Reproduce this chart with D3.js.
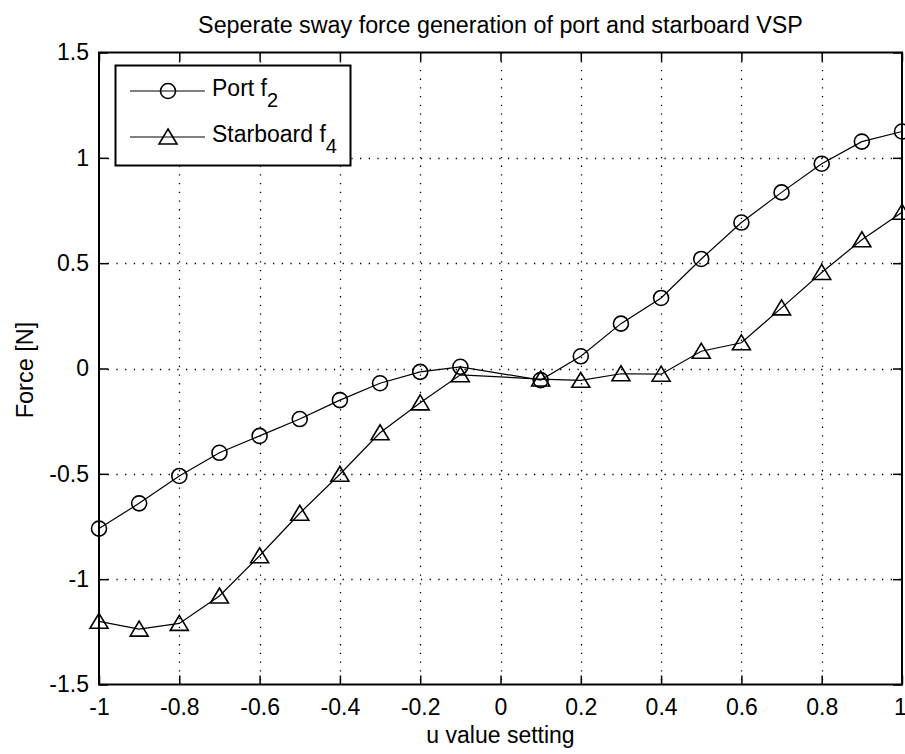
<!DOCTYPE html>
<html>
<head>
<meta charset="utf-8">
<script src="https://cdn.jsdelivr.net/npm/d3@7"></script>
<style>
  body { margin: 0; background: #fff; }
  text { font-family: "Liberation Sans", Arial, sans-serif; fill: #000; }
</style>
</head>
<body>
<svg id="chartArea"></svg>
<script>
// u settings (no sample at 0)
const uValues = [-1, -0.9, -0.8, -0.7, -0.6, -0.5, -0.4, -0.3, -0.2, -0.1,
  0.1, 0.2, 0.3, 0.4, 0.5, 0.6, 0.7, 0.8, 0.9, 1];
const portF2 = [-0.76, -0.64, -0.51, -0.40, -0.32, -0.24, -0.15, -0.07, -0.016, 0.008,
  -0.055, 0.058, 0.213, 0.335, 0.52, 0.693, 0.836, 0.972, 1.077, 1.125];
const starboardF4 = [-1.20, -1.237, -1.21, -1.08, -0.889, -0.687, -0.502, -0.305, -0.163, -0.03,
  -0.05, -0.056, -0.025, -0.027, 0.082, 0.122, 0.288, 0.456, 0.611, 0.742];
const xTicks = [-1, -0.8, -0.6, -0.4, -0.2, 0, 0.2, 0.4, 0.6, 0.8, 1];
const yTicks = [-1.5, -1, -0.5, 0, 0.5, 1, 1.5];

const width = 905,
  height = 754,
  plotLeft = 99,
  plotRight = 902,
  plotTop = 52.5,
  plotBottom = 684.5,
  tickLen = 9;

const xScale = d3.scaleLinear().domain([-1, 1]).range([plotLeft, plotRight]);
const yScale = d3.scaleLinear().domain([-1.5, 1.5]).range([plotBottom, plotTop]);

const svg = d3.select("#chartArea").attr("width", width).attr("height", height);

// dotted grid
const grid = svg.append("g").attr("stroke", "#000").attr("stroke-width", 1.3)
  .attr("stroke-dasharray", "1.3,7.4");
grid.selectAll(".vgrid")
  .data(xTicks.slice(1, -1))
  .enter()
  .append("line")
  .attr("x1", d => Math.round(xScale(d)) + 0.5)
  .attr("x2", d => Math.round(xScale(d)) + 0.5)
  .attr("y1", plotTop)
  .attr("y2", plotBottom);
grid.selectAll(".hgrid")
  .data(yTicks.slice(1, -1))
  .enter()
  .append("line")
  .attr("y1", d => Math.round(yScale(d)) + 0.5)
  .attr("y2", d => Math.round(yScale(d)) + 0.5)
  .attr("x1", plotLeft)
  .attr("x2", plotRight);

// axes with inward ticks on all sides, plain hyphen minus like matlab
const fmt = d => String(d);
const xAxisG = svg.append("g")
  .attr("transform", "translate(0," + plotBottom + ")")
  .call(d3.axisBottom(xScale).tickValues(xTicks).tickSizeInner(-tickLen).tickSizeOuter(0).tickPadding(14).tickFormat(fmt));
svg.append("g")
  .attr("transform", "translate(0," + plotTop + ")")
  .call(d3.axisTop(xScale).tickValues(xTicks).tickSizeInner(-tickLen).tickSizeOuter(0).tickFormat(""));
svg.append("g")
  .attr("transform", "translate(" + plotLeft + ",0)")
  .call(d3.axisLeft(yScale).tickValues(yTicks).tickSizeInner(-tickLen).tickSizeOuter(0).tickPadding(10).tickFormat(fmt));
svg.append("g")
  .attr("transform", "translate(" + plotRight + ",0)")
  .call(d3.axisRight(yScale).tickValues(yTicks).tickSizeInner(-tickLen).tickSizeOuter(0).tickFormat(""));

svg.selectAll(".domain").remove();
svg.selectAll(".tick line").attr("stroke", "#000").attr("stroke-width", 1.5);
svg.selectAll(".tick text").style("font-size", "23px").attr("fill", "#000");
// keep the last label inside the window edge
xAxisG.selectAll(".tick text").filter(d => d === 1).attr("dx", -2);

svg.append("rect")
  .attr("x", plotLeft)
  .attr("y", plotTop)
  .attr("width", plotRight - plotLeft)
  .attr("height", plotBottom - plotTop)
  .attr("fill", "none")
  .attr("stroke", "#000")
  .attr("stroke-width", 2);

// series
const series = [
  { name: "Port", sub: "2", values: portF2, marker: "circle" },
  { name: "Starboard", sub: "4", values: starboardF4, marker: "triangle" }
];

const trianglePath = "M0,-8L9,7L-9,7Z";

const line = d3.line()
  .x((d, i) => xScale(uValues[i]))
  .y(d => yScale(d));

function drawMarker(sel, type) {
  if (type === "circle") {
    sel.append("circle").attr("r", 7.5);
  } else {
    sel.append("path").attr("d", trianglePath);
  }
}

series.forEach(s => {
  svg.append("path")
    .datum(s.values)
    .attr("d", line)
    .attr("fill", "none")
    .attr("stroke", "#000")
    .attr("stroke-width", 1.2);

  const marks = svg.append("g")
    .attr("fill", "none")
    .attr("stroke", "#000")
    .attr("stroke-width", 1.6)
    .selectAll("g")
    .data(s.values)
    .enter()
    .append("g")
    .attr("transform", (d, i) => "translate(" + xScale(uValues[i]) + "," + yScale(d) + ")");
  drawMarker(marks, s.marker);
});

// title and axis labels
svg.append("text")
  .attr("x", (plotLeft + plotRight) / 2)
  .attr("y", 33)
  .attr("text-anchor", "middle")
  .style("font-size", "23.3px")
  .text("Seperate sway force generation of port and starboard VSP");

svg.append("text")
  .attr("x", (plotLeft + plotRight) / 2)
  .attr("y", 743)
  .attr("text-anchor", "middle")
  .style("font-size", "23px")
  .text("u value setting");

svg.append("text")
  .attr("transform", "translate(32.5,370) rotate(-90)")
  .attr("text-anchor", "middle")
  .style("font-size", "23.5px")
  .text("Force [N]");

// legend
const legend = svg.append("g");
legend.append("rect")
  .attr("x", 115.5)
  .attr("y", 65.5)
  .attr("width", 235)
  .attr("height", 100)
  .attr("fill", "#fff")
  .attr("stroke", "#000")
  .attr("stroke-width", 2);

const rowY = [91, 137];
series.forEach((s, i) => {
  legend.append("line")
    .attr("x1", 130).attr("x2", 205)
    .attr("y1", rowY[i]).attr("y2", rowY[i])
    .attr("stroke", "#000").attr("stroke-width", 1.2);
  const m = legend.append("g")
    .attr("transform", "translate(168," + rowY[i] + ")")
    .attr("fill", "none").attr("stroke", "#000").attr("stroke-width", 1.6);
  drawMarker(m, s.marker);
  const t = legend.append("text")
    .attr("x", 212)
    .attr("y", rowY[i] + 5)
    .style("font-size", "23px");
  t.append("tspan").text(s.name + " f");
  t.append("tspan").attr("dy", 10.5).style("font-size", "20px").text(s.sub);
});
</script>
</body>
</html>
